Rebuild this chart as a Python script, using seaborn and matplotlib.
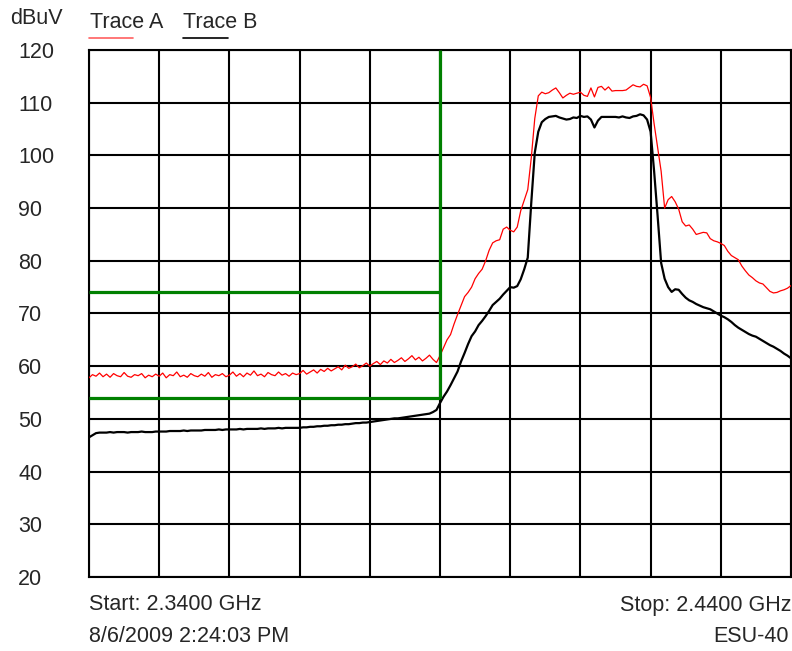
# EMC spectrum plot: Trace A / Trace B with limit lines

import numpy as np
import pandas as pd
import matplotlib
matplotlib.use("Agg")
import matplotlib.pyplot as plt
import seaborn as sns
from matplotlib.lines import Line2D

# sweep settings (GHz)
start_ghz = 2.34
stop_ghz = 2.44

# Trace A (red), dBuV, one value per 0.5 MHz
trace_a = [
    57.8, 58.4, 58.1, 58.7, 58.0, 58.5, 57.9, 58.6, 58.2, 58.0,
    58.8, 58.1, 57.9, 58.4, 58.2, 58.6, 57.8, 58.3, 58.0, 58.5,
    58.1, 58.7, 57.8, 58.4, 58.2, 58.9, 58.0, 58.3, 57.9, 58.6,
    58.2, 58.0, 58.5, 58.1, 58.8, 57.9, 58.4, 58.2, 58.6, 58.0,
    58.3, 58.9, 58.1, 58.6, 58.0, 58.7, 58.3, 59.1, 58.2, 58.5,
    58.0, 58.8, 58.4, 58.2, 58.9, 58.3, 58.6, 58.1, 58.7, 58.4,
    58.6, 59.2, 58.5, 58.9, 59.3, 58.7, 59.4, 59.0, 59.6, 59.1,
    59.5, 59.9, 59.3, 60.2, 59.6, 59.9, 60.4, 59.7, 60.1, 60.6,
    60.0, 60.5, 60.9, 60.3, 61.0, 60.6, 61.3, 60.7, 61.1, 61.6,
    60.9, 61.4, 62.0, 61.2, 61.7, 61.0, 61.5, 62.1, 61.3, 60.7,
    62.0, 63.5, 65.0, 66.0, 68.0, 69.8, 71.5, 73.2, 74.0, 75.0,
    76.6, 77.6, 78.4, 80.0, 82.0, 83.4, 83.8, 84.0, 86.0, 86.4,
    85.8, 85.5, 86.4, 89.5, 91.5, 93.5, 99.5, 107.0, 111.3, 112.0,
    111.7, 111.9, 112.4, 112.8, 111.9, 110.9, 111.4, 111.8, 111.6, 111.8,
    112.0, 111.4, 111.2, 112.8, 111.1, 112.9, 113.1, 112.4, 113.0, 112.2,
    112.3, 112.3, 112.3, 112.4, 112.9, 113.4, 113.1, 113.0, 113.5, 113.2,
    111.0, 106.0, 101.5, 97.0, 90.0, 91.6, 92.2, 91.2, 89.8, 87.4,
    86.6, 86.8, 86.0, 85.0, 85.2, 85.4, 85.3, 84.2, 83.8, 83.6,
    83.3, 82.9, 81.8, 81.0, 80.6, 80.2, 79.0, 78.1, 77.3, 76.8,
    76.2, 75.8, 75.6, 74.9, 74.2, 73.9, 74.0, 74.3, 74.5, 74.8,
    75.3,
]

# Trace B (black), dBuV, one value per 0.5 MHz
trace_b = [
    46.5, 46.9, 47.3, 47.4, 47.4, 47.4, 47.5, 47.4, 47.5, 47.5,
    47.5, 47.4, 47.5, 47.5, 47.5, 47.6, 47.5, 47.5, 47.5, 47.6,
    47.6, 47.6, 47.6, 47.7, 47.7, 47.7, 47.7, 47.8, 47.7, 47.8,
    47.8, 47.8, 47.8, 47.9, 47.9, 47.9, 47.9, 48.0, 47.9, 48.0,
    48.0, 48.0, 48.0, 48.1, 48.0, 48.1, 48.1, 48.1, 48.1, 48.2,
    48.1, 48.2, 48.2, 48.2, 48.3, 48.2, 48.3, 48.3, 48.3, 48.3,
    48.3, 48.4, 48.4, 48.5, 48.5, 48.6, 48.6, 48.7, 48.7, 48.8,
    48.8, 48.9, 48.9, 49.0, 49.0, 49.1, 49.2, 49.2, 49.3, 49.3,
    49.4, 49.5, 49.6, 49.7, 49.8, 49.9, 50.0, 50.1, 50.1, 50.2,
    50.3, 50.4, 50.5, 50.6, 50.7, 50.8, 50.9, 51.0, 51.3, 51.7,
    53.0, 54.2, 55.2, 56.4, 57.7, 59.0, 60.9, 62.5, 64.2, 65.7,
    66.6, 67.8, 68.6, 69.5, 70.5, 71.6, 72.2, 72.8, 73.6, 74.3,
    75.0, 74.9, 75.2, 76.5, 78.4, 80.6, 91.0, 100.5, 104.5, 106.3,
    106.9, 107.3, 107.4, 107.5, 107.2, 107.0, 106.8, 106.9, 107.2, 107.1,
    107.5, 107.3, 107.4, 106.8, 105.3, 106.6, 107.3, 107.3, 107.3, 107.3,
    107.3, 107.2, 107.4, 107.2, 107.1, 107.4, 107.5, 107.8, 107.6, 106.8,
    104.5, 97.0, 88.5, 79.6, 76.6, 75.0, 74.1, 74.6, 74.5, 73.7,
    73.0, 72.5, 72.2, 71.8, 71.5, 71.2, 71.0, 70.8, 70.4, 70.0,
    69.6, 69.3, 68.9, 68.4, 67.8, 67.3, 66.9, 66.5, 66.1, 65.8,
    65.6, 65.2, 64.8, 64.4, 64.0, 63.7, 63.3, 62.9, 62.4, 62.0,
    61.5,
]

# limit lines
limit_freq = [2.34, 2.39]
limit_upper = 74
limit_lower = 54
y_ticks = [20, 30, 40, 50, 60, 70, 80, 90, 100, 110, 120]

freq = np.linspace(start_ghz, stop_ghz, len(trace_a))
df = pd.DataFrame({"freq": freq, "a": trace_a, "b": trace_b})

sns.set_style("white")
plt.rcParams["font.family"] = ["Liberation Sans", "DejaVu Sans"]

fig = plt.figure(figsize=(7.92, 6.51), dpi=100)
ax = fig.add_axes([89 / 792, 1 - 577 / 651, 702 / 792, 527 / 651])

sns.lineplot(data=df, x="freq", y="a", ax=ax, color="#ff0000", lw=0.9, zorder=3)
sns.lineplot(data=df, x="freq", y="b", ax=ax, color="black", lw=1.6, zorder=4)

green = "#008000"
ax.plot(limit_freq, [limit_upper, limit_upper], color=green, lw=2.3, zorder=5,
        solid_capstyle="butt")
ax.plot(limit_freq, [limit_lower, limit_lower], color=green, lw=2.3, zorder=5,
        solid_capstyle="butt")
ax.plot([limit_freq[1], limit_freq[1]], [limit_lower, y_ticks[-1]], color=green,
        lw=2.3, zorder=5, solid_capstyle="butt")

ax.set_xlim(start_ghz, stop_ghz)
ax.set_ylim(20, 120)
ax.set_xticks(np.linspace(start_ghz, stop_ghz, 11))
ax.set_yticks(y_ticks)
ax.set_xticklabels([])
ax.set_yticklabels([str(v) for v in y_ticks])
ax.tick_params(axis="x", length=0)
ax.tick_params(axis="y", length=0, pad=51, labelsize=15.5)
for lab in ax.get_yticklabels():
    lab.set_horizontalalignment("left")
ax.grid(True, color="black", lw=1.5)
ax.set_axisbelow(True)
for s in ax.spines.values():
    s.set_color("black")
    s.set_linewidth(1.5)
ax.set_xlabel("")
ax.set_ylabel("")

# header texts and legend
fs = 15.5
fig.text(10 / 792, 1 - 18 / 651, "dBuV", fontsize=fs, va="center", ha="left")
fig.text(90 / 792, 1 - 22 / 651, "Trace A", fontsize=fs, va="center", ha="left")
fig.text(183 / 792, 1 - 22 / 651, "Trace B", fontsize=fs, va="center", ha="left")
fig.add_artist(Line2D([89 / 792, 133 / 792], [1 - 38 / 651, 1 - 38 / 651],
                      color="#ff6060", lw=1.2))
fig.add_artist(Line2D([183 / 792, 228 / 792], [1 - 38 / 651, 1 - 38 / 651],
                      color="black", lw=1.2))

# footer texts
fig.text(89 / 792, 1 - 605 / 651, "Start: 2.3400 GHz", fontsize=fs, va="center", ha="left")
fig.text(791 / 792, 1 - 605 / 651, "Stop: 2.4400 GHz", fontsize=fs, va="center", ha="right")
fig.text(89 / 792, 1 - 636 / 651, "8/6/2009 2:24:03 PM", fontsize=fs, va="center", ha="left")
fig.text(789 / 792, 1 - 636 / 651, "ESU-40", fontsize=fs, va="center", ha="right")

fig.savefig("out.png", dpi=100)
